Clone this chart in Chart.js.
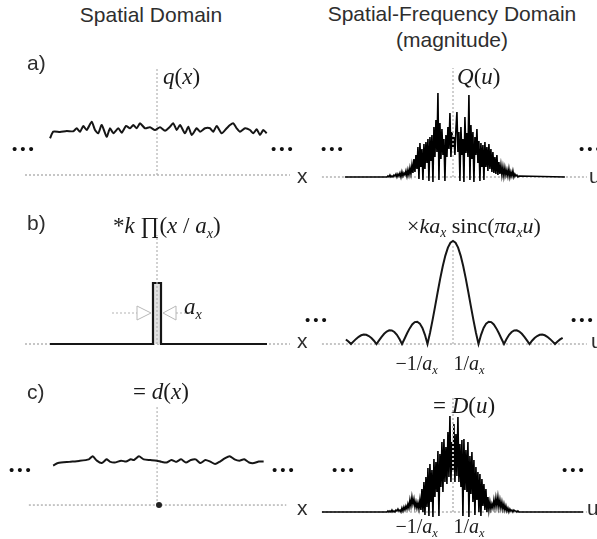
<!DOCTYPE html>
<html><head><meta charset="utf-8">
<script src="https://cdn.jsdelivr.net/npm/chart.js@4.4.1/dist/chart.umd.min.js"></script>
<style>
html,body{margin:0;padding:0;background:#fff;}
#wrap{position:relative;width:597px;height:539px;overflow:hidden;background:#fff;}
canvas{position:absolute;}
.t{position:absolute;white-space:nowrap;line-height:1;}
.sans{font-family:"Liberation Sans",Arial,sans-serif;color:#2e2e2e;font-size:21px;}
.serif{font-family:"Liberation Serif","Times New Roman",serif;color:#1a1a1a;font-size:23px;}
.tick{font-family:"Liberation Serif","Times New Roman",serif;color:#1a1a1a;font-size:20px;}
.sub{font-size:0.62em;vertical-align:-0.32em;font-style:italic;}
.dots{position:absolute;font-family:"Liberation Sans",Arial,sans-serif;font-size:15px;letter-spacing:3px;color:#111;line-height:1;white-space:nowrap;}
</style></head>
<body><div id="wrap">
<canvas id="cA1"></canvas><canvas id="cA2"></canvas>
<canvas id="cB1"></canvas><canvas id="cB2"></canvas>
<canvas id="cC1"></canvas><canvas id="cC2"></canvas>

<div class="t sans" style="left:151px;top:4px;transform:translateX(-50%)">Spatial Domain</div>
<div class="t sans" style="left:452px;top:3px;transform:translateX(-50%)">Spatial-Frequency Domain</div>
<div class="t sans" style="left:452px;top:29px;transform:translateX(-50%)">(magnitude)</div>
<div class="t sans" style="left:27px;top:52px">a)</div>
<div class="t sans" style="left:27px;top:212px">b)</div>
<div class="t sans" style="left:27px;top:381px">c)</div>

<div class="t sans" style="left:297px;top:165px">x</div>
<div class="t sans" style="left:297px;top:330px">x</div>
<div class="t sans" style="left:297px;top:497px">x</div>
<div class="t sans" style="left:589px;top:165px">u</div>
<div class="t sans" style="left:591px;top:330px">u</div>
<div class="t sans" style="left:587px;top:497px">u</div>

<div class="t serif" style="left:163px;top:65px"><i>q</i>(<i>x</i>)</div>
<div class="t serif" style="left:457px;top:65px"><i>Q</i>(<i>u</i>)</div>
<div class="t serif" style="left:113px;top:214px">*<i>k</i> ∏(<i>x</i> / <i>a</i><span class="sub">x</span>)</div>
<div class="t serif" style="left:407px;top:215px;font-size:22px">×<i>ka</i><span class="sub">x</span> sinc(<i>πa</i><span class="sub">x</span><i>u</i>)</div>
<div class="t serif" style="left:184px;top:295px"><i>a</i><span class="sub">x</span></div>
<div class="t serif" style="left:133px;top:380px">= <i>d</i>(<i>x</i>)</div>
<div class="t serif" style="left:433px;top:394px">= <i>D</i>(<i>u</i>)</div>
<div id="tickB" ></div>
<div id="tickC" ></div>

<div class="dots" style="left:12px;top:141px">•••</div>
<div class="dots" style="left:271px;top:141px">•••</div>
<div class="dots" style="left:321px;top:141px">•••</div>
<div class="dots" style="left:579px;top:141px">•••</div>
<div class="dots" style="left:305px;top:312px">•••</div>
<div class="dots" style="left:571px;top:312px">•••</div>
<div class="dots" style="left:9px;top:462px">•••</div>
<div class="dots" style="left:272px;top:462px">•••</div>
<div class="dots" style="left:332px;top:462px">•••</div>
<div class="dots" style="left:562px;top:462px">•••</div>
</div>
<script>
// ---------- data ----------
// a) spatial noise q(x): sample positions and heights
const qX = [-107,-103.7,-97,-90.3,-83.7,-80.3,-77,-73.7,-70.3,-65.3,-62,-58.7,-55.3,-50.3,-47,-43.7,-38.7,-35.3,-31,-27,-23.7,-20.3,-17,-12,-7,-2,3,8,13,16.3,19.7,23,28,31.3,34.7,39.7,43,48,53,56.3,59.7,64.7,69.7,73,76.3,79.7,83,88,93,96.3,99.7,103,106.3,109.7];
const qY = [36.7,43.3,43,44,43.7,46.7,43.3,49,45,53.3,45,41.7,50,38.3,46.7,41.7,46.7,42.3,49,46.7,50,46.7,51.7,46.7,47.7,45,47.7,44.3,48.3,51.7,45,50,41.7,48.3,40,46.7,43.3,46.7,46.7,43.3,49,41.7,46.7,50,51.7,46.7,43.3,46.7,45,41.7,45.7,40,45,41.7];
// c) filtered d(x)
const dX = [-107,-102,-90.3,-80.3,-70.3,-66.3,-62,-57,-52,-48.7,-43.7,-37,-32,-27,-23.7,-18.7,-13.7,-7,-0.3,4.7,9.7,14.7,19.7,24.7,29.7,34.7,39.7,44.7,49.7,54.7,59.7,64.7,69.7,74.7,79.7,84.7,89.7,94.7,99.7,104.7,109.7];
const dY = [42,44.7,46,47,48.7,52,47.3,44.7,48.7,46.3,45.3,47.3,46.3,48.7,48,52,48.7,48,47.3,46,45.3,48,46,48.7,45.3,48,48.7,44.7,48,46.3,43.7,46.3,49.7,52,48.7,47.3,48.7,45.3,44.7,46.3,46.3];
// b) rect function k*Pi(x/a_x)
const rectX = [-107,-4,-4,4,4,110];
const rectY = [0,0,61,61,0,0];
// a_x dimension arrows
const arrowLineL = [[-45,31],[-20,31]];
const arrowTriL = [[-20,24],[-20,38],[-6,31],[-20,24]];
const arrowTriR = [[19,24],[19,38],[6,31],[19,24]];
const arrowLineR = [[19,31],[41,31]];
// spectra (u in units of 1/a_x)
const specStart = -2.59, specStep = 0.0392;
const QVals = [0,1,0,2,0,1,0,2,1,3, 0,3,1,4,0,5,1,4,2,6, 1,7,2,9,3,12,4,18,5,22, 8,30,-2,34,10,28,-3,33,8,35,
  14,38,-4,40,16,42,-5,50,20,57, 25,84,-3,54,18,48,22,38,-4,42, 20,50,28,64,20,45,30,40,22,48,
  65,25,45,-4,50,22,38,-5,60,24, 44,20,82,-3,52,18,45,-5,40,22, 48,14,36,-4,34,10,32,-3,35,10,
  30,6,33,8,28,5,25,4,20,3, 22,2,15,3,12,2,10,1,9,2, 7,1,8,0,5,1,6,0,3,1, 2,0,1];
const QExtent = [-4.24, 4.39];
const DVals = [0,1,0,1,0,2,0,1,0,2, 1,3,1,2,0,4,1,5,2,6, 3,8,4,12,6,15,8,13,5,10, 4,9,3,12,2,23,0,30,-3,35,
  5,44,-4,48,10,42,-5,53,15,50, 20,61,-4,58,25,70,20,73,30,65, 28,80,35,96,30,70,40,88,30,78,
  36,95,30,68,25,72,-4,73,22,62, 20,70,-5,56,18,60,10,52,-3,45, 12,40,0,38,-4,33,6,28,2,23,
  0,15,2,10,3,8,4,12,5,14, 6,15,5,12,4,10,3,8,2,6, 1,4,0,3,1,2,0,2,1,1, 0,1,0];
const DExtent = [-5.14, 5.1];
// b) |sinc| magnitude, u = -4.2 .. 4.3 step 0.1
const sincStart = -4.2, sincStep = 0.1;
const sincVals = [4.6,2.5,0,2.6,5.1,7.2,8.7,9.4,9.2,8.0,6.0,3.3,0,3.6,7.2,10.2,12.5,13.7,13.6,12.0,9.2,5.0,0,5.3,10.7,15.6,19.5,21.9,22.3,20.4,16.1,9.2,0,11.3,24.1,37.9,52.0,65.6,78.0,88.4,96.4,101.3,
  103,
  101.3,96.4,88.4,78.0,65.6,52.0,37.9,24.1,11.3,0,9.2,16.1,20.4,22.3,21.9,19.5,15.6,10.7,5.3,0,5.0,9.2,12.0,13.6,13.7,12.5,10.2,7.2,3.6,0,3.3,6.0,8.0,9.2,9.4,8.7,7.2,5.1,2.6,0,2.5,4.6,6.2];
const uTicks = [-1, 1];
const uTickLabels = ['−1/<i>a</i><span class="sub">x</span>', '1/<i>a</i><span class="sub">x</span>'];
// axis extents
const xAxisExtent = [-132, 133];
const uAxisExtent = [-5.14, 5.25];

// ---------- helpers ----------
const pts = (xs, ys) => xs.map((x, i) => ({x, y: ys[i]}));
const pairs = arr => arr.map(p => ({x: p[0], y: p[1]}));
const series = (s, st, vals) => vals.map((v, i) => ({x: s + i * st, y: v}));
const INK = '#161616', GRID = '#b4b4b4';
function ds(data, o) {
  return Object.assign({data, showLine: true, pointRadius: 0, borderColor: INK, borderWidth: 2,
    clip: false, fill: false, tension: 0, order: 1}, o || {});
}
const axisLine = (ext) => ds([{x: ext[0], y: 0}, {x: ext[1], y: 0}], {borderColor: GRID, borderWidth: 1.5, borderDash: [2, 2], order: 5});
const centerLine = (h, o) => ds([{x: 0, y: 0}, {x: 0, y: h}], Object.assign({borderColor: GRID, borderWidth: 1.2, borderDash: [2, 2], order: 4}, o || {}));

function panel(id, box, xr, base, datasets) {
  const c = document.getElementById(id);
  c.width = box.w; c.height = box.h;
  c.style.left = box.l + 'px'; c.style.top = box.t + 'px';
  return new Chart(c, {type: 'scatter', data: {datasets}, options: {
    responsive: false, animation: false, devicePixelRatio: 1, events: [],
    layout: {padding: 0},
    plugins: {legend: {display: false}, tooltip: {enabled: false}},
    scales: {
      x: {type: 'linear', display: false, min: xr[0], max: xr[1]},
      y: {type: 'linear', display: false, min: -(box.t + box.h - base), max: base - box.t}
    }
  }});
}
const LX = [20 - 157, 300 - 157];
const RX = [(315 - 453) / 25.5, (597 - 453) / 25.5];
const LB = (t) => ({l: 20, t, w: 280, h: 130});
const RB = (t) => ({l: 315, t, w: 282, h: 130});

// a)
panel('cA1', LB(60), LX, 175, [
  ds(pts(qX, qY), {tension: 0.2, borderWidth: 2}),
  centerLine(107),
  axisLine(xAxisExtent)
]);
panel('cA2', RB(60), RX, 177, [
  centerLine(109, {order: 0, borderColor: '#c0c0c0', borderWidth: 1.5}),
  ds([{x: QExtent[0], y: 0}, ...series(specStart, specStep, QVals), {x: QExtent[1], y: 0}], {borderWidth: 1.6, borderColor: '#000'}),
  axisLine(uAxisExtent)
]);
// b)
panel('cB1', LB(225), LX, 344, [
  ds(pts(rectX, rectY), {borderWidth: 2.2, fill: 'origin', backgroundColor: '#e2e2e2', order: 2}),
  centerLine(109, {order: 1}),
  ds(pairs(arrowLineL), {borderColor: GRID, borderWidth: 1, borderDash: [2, 2], order: 3}),
  ds(pairs(arrowLineR), {borderColor: GRID, borderWidth: 1, borderDash: [2, 2], order: 3}),
  ds(pairs(arrowTriL), {borderColor: '#b8b8b8', borderWidth: 1, order: 3}),
  ds(pairs(arrowTriR), {borderColor: '#b8b8b8', borderWidth: 1, order: 3}),
  axisLine(xAxisExtent)
]);
const chB2 = panel('cB2', RB(225), RX, 344, [
  ds(series(sincStart, sincStep, sincVals), {borderWidth: 2}),
  centerLine(100),
  axisLine(uAxisExtent)
]);
// c)
panel('cC1', LB(395), LX, 508, [
  ds(pts(dX, dY), {tension: 0.2, borderWidth: 2}),
  ds([{x: 2, y: 0}], {showLine: false, pointRadius: 3, pointBackgroundColor: '#222', pointBorderWidth: 0, order: 0}),
  centerLine(105),
  axisLine(xAxisExtent)
]);
const chC2 = panel('cC2', RB(395), RX, 512, [
  centerLine(114, {order: 0, borderColor: '#c8c8c8', borderWidth: 2}),
  ds([{x: DExtent[0], y: 0}, ...series(specStart, specStep, DVals), {x: DExtent[1], y: 0}], {borderWidth: 1.6, borderColor: '#000'}),
  axisLine(uAxisExtent)
]);

// tick labels placed through the frequency scale
function ticks(chart, holderId, top) {
  const holder = document.getElementById(holderId);
  const sx = chart.scales.x, off = [-32, -25];
  uTicks.forEach((u, i) => {
    const d = document.createElement('div');
    d.className = 't tick';
    d.style.left = (315 + sx.getPixelForValue(u) + off[i]) + 'px';
    d.style.top = top + 'px';
    d.innerHTML = uTickLabels[i];
    holder.appendChild(d);
  });
}
ticks(chB2, 'tickB', 353);
ticks(chC2, 'tickC', 516);
</script>
</body></html>
